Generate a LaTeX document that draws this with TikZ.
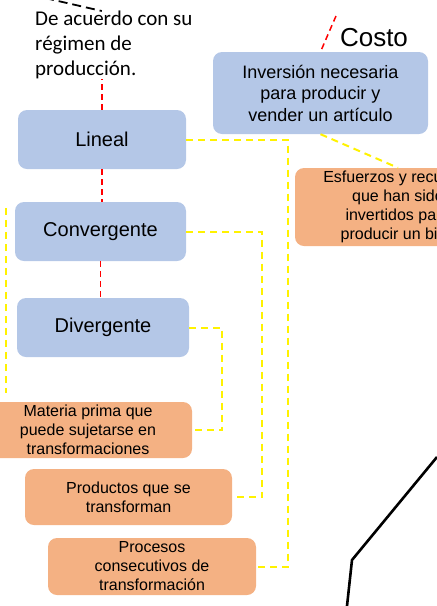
\documentclass[tikz,border=0pt]{standalone}
\usepackage{fontspec}
\setmainfont{Liberation Sans}
\newfontfamily\calib{Carlito}
\definecolor{boxblue}{HTML}{B4C7E7}
\definecolor{boxorange}{HTML}{F4B183}
\begin{document}
\begin{tikzpicture}[x=1pt,y=-1pt,
    bluebox/.style={fill=boxblue,rounded corners=9pt,align=center,inner sep=0pt},
    orangebox/.style={fill=boxorange,rounded corners=9pt,align=center,inner sep=0pt,
      font=\fontsize{16}{19}\selectfont},
    redlink/.style={red,line width=1.5pt,dash pattern=on 6pt off 4pt},
    yellowlink/.style={yellow,line width=2pt,dash pattern=on 7pt off 5pt}]
      \useasboundingbox (0,0) rectangle (437,606);
      \clip (0,0) rectangle (437,606);
      \draw
        (35,11) node[anchor=north west,align=left,inner sep=0pt,
          font=\calib\fontsize{21}{25}\selectfont] (regimen){De acuerdo con su\\régimen de\\producción.}
        (374,38) node[font=\fontsize{26}{30}\selectfont] (costo){Costo}
        (102,139.5) node[bluebox,minimum width=168pt,minimum height=59pt,
          font=\fontsize{20}{24}\selectfont] (lineal){Lineal}
        (100.5,231.5) node[bluebox,minimum width=171pt,minimum height=59pt,
          font=\fontsize{20}{24}\selectfont] (conv){Convergente}
        (103,327.5) node[bluebox,minimum width=172pt,minimum height=59pt,
          font=\fontsize{20}{24}\selectfont] (div){Divergente}
        (320.5,93) node[bluebox,minimum width=215pt,minimum height=82pt,
          font=\fontsize{18}{21.5}\selectfont] (inv){Inversión necesaria\\para producir y\\vender un artículo}
        (398,207) node[orangebox,minimum width=206pt,minimum height=78pt] (esf){Esfuerzos y recursos\\que han sido\\invertidos para\\producir un bien}
        (88,430) node[orangebox,minimum width=208pt,minimum height=56pt] (mat){Materia prima que\\puede sujetarse en\\transformaciones}
        (128.5,497) node[orangebox,minimum width=207pt,minimum height=56pt] (prod){Productos que se\\transforman}
        (152,566.5) node[orangebox,minimum width=208pt,minimum height=57pt] (proc){Procesos\\consecutivos de\\transformación};
      \coordinate (top) at (45,-2);
      \coordinate (costotip) at (336,16);
      \coordinate (leftend) at (6,208);
      \begin{scope}[redlink]
        \draw (lineal.north) -- (lineal.north |- regimen.south);
        \draw (lineal.south) -- (lineal.south |- conv.north);
        \draw (conv.south) -- (conv.south |- div.north);
        \draw (costotip) -- (inv.north);
      \end{scope}
      \begin{scope}[yellowlink]
        \draw (lineal.east) -- ++(102,0) |- (proc.east);
        \draw (conv.east) -- ++(76,0) |- (prod.east);
        \draw (div.east) -- ++(33,0) |- (mat.east);
        \draw (inv.south) -- (esf.north);
        \draw[shorten >=9pt] (leftend) -- (leftend |- mat.north);
      \end{scope}
      \draw[line width=1.8pt,dash pattern=on 9pt off 5pt] (top) -- ([xshift=-12pt]regimen.north);
      \draw[line width=2.6pt,line join=round] (437,457) -- (352,560) -- (347,606);
    \end{tikzpicture}
\end{document}
